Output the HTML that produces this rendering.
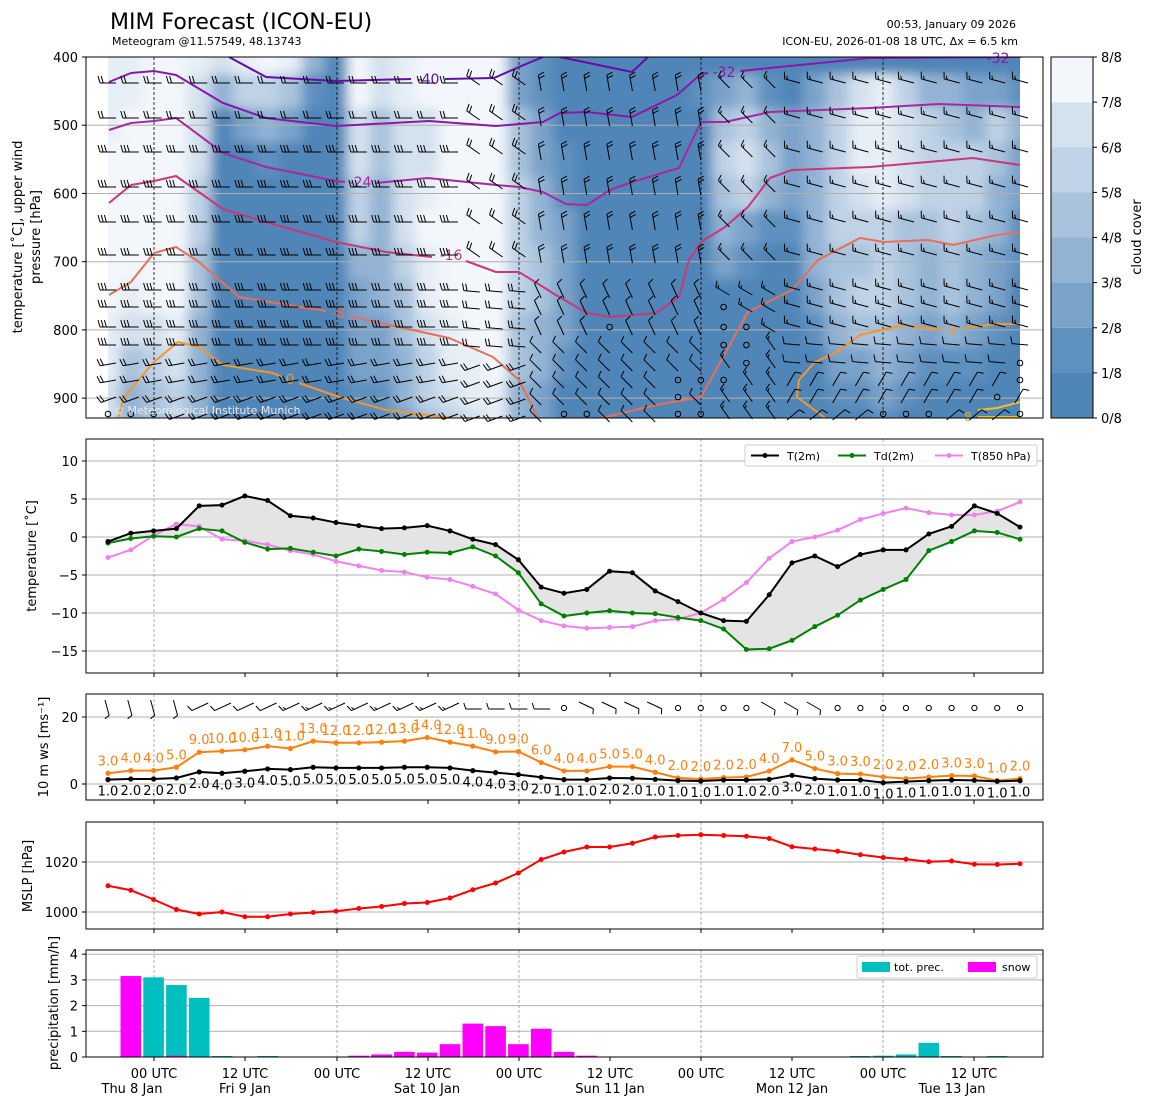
<!DOCTYPE html>
<html><head><meta charset="utf-8">
<style>
html,body{margin:0;padding:0;background:#fff;}
svg text{font-family:"DejaVu Sans","Liberation Sans",sans-serif;}
</style></head>
<body>
<svg id="s" xmlns="http://www.w3.org/2000/svg" width="1155" height="1105" viewBox="0 0 1155 1105">
<defs>
<clipPath id="cTop"><rect x="108" y="57" width="912" height="361"/></clipPath>
<clipPath id="cTopAx"><rect x="86" y="57" width="957" height="361"/></clipPath>
<filter id="bl" x="-5%" y="-5%" width="110%" height="110%"><feGaussianBlur stdDeviation="6 5"/></filter>
</defs>
</svg>
<script>
const S=document.getElementById('s');
const NS='http://www.w3.org/2000/svg';
function el(t,a,p){const e=document.createElementNS(NS,t);for(const k in a)e.setAttribute(k,a[k]);(p||S).appendChild(e);return e;}
function tx(x,y,s,o){o=o||{};const e=el('text',Object.assign({x:x,y:y,'font-size':o.fs||13,fill:o.fill||'#000','text-anchor':o.a||'middle'},o.attr||{}),o.p);e.textContent=s;return e;}
const X=i=>108+i*22.8;
const XL=86,XR=1043;
const dashX=[154,337,519,701,883];
const tickX=[154,245,337,428,519,610,701,792,883,974];

// ---------- TOP PANEL ----------
const yp=p=>57+(p-400)*0.6823;
const cl=["777888887766","778888876433","888888886544","888888887655","766655443333","630000000000","752000000000","853100000000","742000000000","310000000000","000000000000","886655322210","664433332211","776666544332","886678776554","888888887765","888888888776","888888888877","224455554433","112233443322","000112222100","000000000000","000000000000","000000000000","000000000000","000000000000","010000000000",
"024543200000","035652100000","013431000000","002221000000","023333321000","045555443210","067765454210","077775554321","056664443210","035554332100","034555443100","023554332100","025433221000","013221100000"];
const cols=["#4f85b7","#5f91bf","#7aa3ca","#92b3d4","#a9c3dd","#bfd2e6","#d4e1ee","#e6eef6","#f3f7fb"];
const gTop=el('g',{'clip-path':'url(#cTop)'});
const gB=el('g',{filter:'url(#bl)'},gTop);
const plev=[400,450,500,550,600,650,700,750,800,850,900,930];
for(let i=0;i<41;i++){
  for(let k=0;k<12;k++){
    const v=+cl[i][k];
    const y0=k==0?30:yp((plev[k-1]+plev[k])/2);
    const y1=k==11?440:yp((plev[k]+plev[k+1])/2);
    let x0=X(i)-11.4,x1=X(i)+11.4;
    if(i==0)x0=80; if(i==40)x1=1050;
    el('rect',{x:x0,y:y0,width:x1-x0+0.5,height:y1-y0+0.5,fill:cols[v]},gB);
  }
}
[500,600,700,800,900].forEach(p=>el('line',{x1:XL,x2:XR,y1:yp(p),y2:yp(p),stroke:'#b0b0b0','stroke-width':1}));
dashX.forEach(x=>el('line',{x1:x,x2:x,y1:57,y2:418,stroke:'#000','stroke-width':0.8,'stroke-dasharray':'3,2'}));
const gC=el('g',{'clip-path':'url(#cTopAx)',fill:'none','stroke-width':2,'stroke-linejoin':'round'});
function pl(pts,c,w){el('polyline',{points:pts.map(p=>p.join(',')).join(' '),stroke:c,'stroke-width':w||2,fill:'none'},gC);}
pl([[229,57],[266,77],[336,81],[411,79]],'#6a0aa8');pl([[445,79],[494,78],[519,67],[543,57]],'#6a0aa8');
pl([[560,57],[632,72],[648,57]],'#6a0aa8');
pl([[109,82],[131,73],[154,71],[176,75],[223,103],[266,118],[336,126],[429,121],[496,126],[543,122],[560,113],[587,112],[632,117],[677,95],[701,74],[708,73]],'#8a18a8');
pl([[740,71],[870,58],[1021,57]],'#8a18a8');
pl([[109,130],[131,123],[154,121],[176,118],[223,153],[266,167],[336,181],[345,182]],'#a8289e');
pl([[376,183],[428,178],[496,185],[519,187],[543,192],[566,204],[587,205],[610,190],[632,182],[679,168],[701,122],[725,122],[770,112],[870,108],[939,104],[1020,107]],'#a8289e');
pl([[109,203],[131,185],[154,181],[176,176],[223,209],[266,222],[336,242],[386,252],[432,257]],'#c8387a');
pl([[466,261],[496,272],[519,272],[556,295],[587,313],[610,317],[656,313],[679,297],[689,260],[701,242],[725,227],[748,207],[770,178],[792,170],[870,167],[928,162],[973,158],[1020,165]],'#c8387a');
pl([[109,295],[131,282],[154,253],[176,247],[199,262],[239,297],[326,311]],'#e8705a');
pl([[349,316],[449,338],[493,357],[519,380],[538,418]],'#e8705a');
pl([[601,418],[656,405],[701,397],[748,312],[792,290],[818,260],[860,238],[884,242],[928,240],[953,245],[997,235],[1020,232]],'#e8705a');
pl([[118,418],[124,397],[154,362],[178,342],[199,347],[223,365],[273,373],[282,377]],'#f5962a');
pl([[299,383],[339,397],[386,410],[453,418]],'#f5962a');
pl([[825,418],[797,397],[799,380],[815,362],[835,353],[860,335],[904,325],[942,330]],'#f5962a');
pl([[963,328],[997,324],[1020,324]],'#f5962a');
pl([[978,410],[997,408],[1020,402]],'#f0c020');pl([[978,417],[1020,417]],'#f0c020');
tx(428,84,'-40',{fs:14,fill:'#6a0aa8'});tx(724,77,'-32',{fs:14,fill:'#8a18a8'});tx(998,63,'-32',{fs:14,fill:'#8a18a8'});
tx(360,187,'-24',{fs:14,fill:'#a8289e'});tx(451,260,'-16',{fs:14,fill:'#c8387a'});
tx(338,318,'-8',{fs:14,fill:'#e8705a'});tx(290,384,'0',{fs:14,fill:'#f5962a'});tx(952,335,'0',{fs:14,fill:'#f5962a'});
tx(968,421,'8',{fs:12,fill:'#e0b020'});
function barb(sx,sy,th,L,n,fl,sw){
  const r=th*Math.PI/180,ux=Math.cos(r),uy=-Math.sin(r),fx=-uy,fy=ux;
  const ex=sx+ux*L,ey=sy+uy*L;
  let d=`M${sx},${sy}L${ex},${ey}`;
  for(let j=0;j<n;j++){
    const len=(n-j<1)?fl*0.5:fl;
    const bx=ex-ux*j*3.2,by=ey-uy*j*3.2;
    d+=`M${bx},${by}L${bx+fx*len+ux*2},${by+fy*len+uy*2}`;
  }
  el('path',{d:d,stroke:'#000','stroke-width':sw||1,fill:'none'});
}
function calm(x,y,r){el('circle',{cx:x,cy:y,r:r||2.8,fill:'none',stroke:'#000','stroke-width':1});}
const rows=[83,118,152,187,222,255,290,307,327,345,363,380,397,414];
const circ=new Set(['0,13','1,13','2,13','22,8','27,7','27,8','28,8','27,9','28,9','28,10','25,11','26,11','27,11','25,12','20,13','21,13','25,13','26,13','34,13','35,13','36,13','39,12','40,10','40,11','40,13']);
for(let i=0;i<41;i++){for(let r=0;r<14;r++){
  const x=X(i),y=rows[r];
  if(circ.has(i+','+r)){calm(x,y);continue;}
  let th,n;
  if(i<=15){th=r<=9?180:(r<=11?190:200);n=r<=1?2:(r<=9?3:2);
    barb(x+8,y,th,16,n,7);}
  else if(i<=18){th=r<=5?145:(r<=9?175:200);n=2;barb(x+7,y+2,th,16,n,7);}
  else if(i<=26){th=r<=5?100:(r<=8?115:135);n=r<=5?2:1;barb(x,y+8,th,16,n,6);}
  else if(i<=29){th=r<=5?135:(r<=8?150:125);n=1.5;barb(x+6,y+5,th,16,n,6);}
  else {th=r<=8?165:(r<=10?175:(r<=12?60:40));n=r<=8?1.5:1;
    if(th<90)barb(x-5,y+6,th,16,n,6);else barb(x+8,y,th,16,n,7);}
}}
tx(113,414,'© Meteorological Institute Munich',{fs:11,fill:'#e8e8e8',a:'start'});
el('rect',{x:86,y:57,width:957,height:361,fill:'none',stroke:'#000','stroke-width':1});
const cbc=["#4f85b7","#5f91bf","#7aa3ca","#92b3d4","#a9c3dd","#bfd2e6","#d4e1ee","#f3f7fb"];
for(let k=0;k<8;k++){el('rect',{x:1051,y:418-(k+1)*45.125,width:42,height:45.2,fill:cbc[k]});}
el('rect',{x:1051,y:57,width:42,height:361,fill:'none',stroke:'#000','stroke-width':1});
for(let k=0;k<=8;k++){const y=418-k*45.125;el('line',{x1:1093,x2:1097,y1:y,y2:y,stroke:'#000'});tx(1101,y+5,k+'/8',{a:'start'});}
tx(1141,237,'cloud cover',{attr:{transform:'rotate(-90 1141 237)'}});
[400,500,600,700,800,900].forEach(p=>{const y=yp(p);el('line',{x1:82,x2:86,y1:y,y2:y,stroke:'#000'});tx(78,y+5,p,{a:'end'});});
tx(22,237,'temperature [˚C], upper wind',{attr:{transform:'rotate(-90 22 237)'}});
tx(40,237,'pressure [hPa]',{attr:{transform:'rotate(-90 40 237)'}});

function frame(y0,y1){el('rect',{x:XL,y:y0,width:XR-XL,height:y1-y0,fill:'none',stroke:'#000','stroke-width':1});
  tickX.forEach(x=>el('line',{x1:x,x2:x,y1:y1,y2:y1+4,stroke:'#000'}));}
function vdash(y0,y1){dashX.forEach(x=>el('line',{x1:x,x2:x,y1:y0,y2:y1,stroke:'#999','stroke-width':0.8,'stroke-dasharray':'3,2'}));}
function hgrid(ys){ys.forEach(y=>el('line',{x1:XL,x2:XR,y1:y,y2:y,stroke:'#b0b0b0','stroke-width':1}));}
function ytick(y,s){el('line',{x1:82,x2:86,y1:y,y2:y,stroke:'#000'});tx(78,y+5,s,{a:'end'});}
function series(vals,fy,c,w,r){const pts=vals.map((v,i)=>X(i)+','+fy(v)).join(' ');
  el('polyline',{points:pts,fill:'none',stroke:c,'stroke-width':w||2});
  vals.forEach((v,i)=>el('circle',{cx:X(i),cy:fy(v),r:r||2.5,fill:c}));}

const ty=v=>537-7.6*v;
const T=[-0.6,0.5,0.8,1.1,4.1,4.2,5.4,4.8,2.8,2.5,1.9,1.5,1.1,1.2,1.5,0.8,-0.3,-1.0,-3.0,-6.6,-7.4,-6.9,-4.5,-4.7,-7.1,-8.5,-10.0,-11.0,-11.1,-7.6,-3.4,-2.5,-3.9,-2.3,-1.7,-1.7,0.4,1.4,4.1,3.1,1.3];
const Td=[-0.8,-0.2,0.1,0.0,1.1,0.8,-0.7,-1.6,-1.5,-2.0,-2.5,-1.6,-1.9,-2.3,-2.0,-2.1,-1.3,-2.5,-4.7,-8.8,-10.4,-10.0,-9.7,-10.0,-10.1,-10.6,-11.0,-12.1,-14.8,-14.7,-13.6,-11.8,-10.3,-8.3,-6.9,-5.6,-1.8,-0.6,0.8,0.6,-0.3];
const T8=[-2.7,-1.7,0.2,1.7,1.4,-0.3,-0.5,-1.0,-1.8,-2.3,-3.2,-3.8,-4.4,-4.6,-5.3,-5.6,-6.5,-7.5,-9.6,-11.0,-11.7,-12.0,-11.9,-11.8,-11.0,-10.8,-10.0,-8.2,-6.0,-2.8,-0.6,0.0,0.9,2.3,3.1,3.8,3.2,2.9,2.9,3.4,4.6];
hgrid([10,5,0,-5,-10,-15].map(ty));vdash(439,673);
{let d='M'+T.map((v,i)=>X(i)+','+ty(v)).join('L')+'L'+Td.map((v,i)=>X(i)+','+ty(v)).reverse().join('L')+'Z';
el('path',{d:d,fill:'#e4e4e4',stroke:'none'});}
series(T8,ty,'#ee82ee',2);series(Td,ty,'#008000',2);series(T,ty,'#000',2);
frame(439,673);
[10,5,0,-5,-10,-15].forEach(v=>ytick(ty(v),v<0?'−'+(-v):v));
tx(36,556,'temperature [˚C]',{attr:{transform:'rotate(-90 36 556)'}});
el('rect',{x:745,y:445,width:292,height:21,rx:2,fill:'#fff','fill-opacity':0.85,stroke:'#ccc'});
[[751,'#000','T(2m)'],[838,'#008000','Td(2m)'],[935,'#ee82ee','T(850 hPa)']].forEach(a=>{
 el('line',{x1:a[0],x2:a[0]+28,y1:455.5,y2:455.5,stroke:a[1],'stroke-width':2});el('circle',{cx:a[0]+14,cy:455.5,r:2.5,fill:a[1]});
 tx(a[0]+36,460,a[2],{fs:11,a:'start'});});

const wy=v=>784-3.35*v;
hgrid([wy(0),wy(20)]);vdash(694,800);
const G=[3.2,4,4,5,9.5,9.8,10.2,11.3,10.6,12.8,12.3,12.3,12.5,12.8,13.9,12.5,11.3,9.6,9.7,6.4,3.9,3.9,5.2,5.2,3.5,1.8,1.5,1.9,2.1,3.9,7.2,4.6,3.1,3.0,2.1,1.6,2.1,2.5,2.4,1.0,1.6];
const GL=[3,4,4,5,9,10,10,11,11,13,12,12,12,13,14,12,11,9,9,6,4,4,5,5,4,2,2,2,2,4,7,5,3,3,2,2,2,3,3,1,2];
const M=[1.3,1.5,1.5,1.8,3.6,3.2,3.8,4.5,4.3,5.0,4.8,4.8,4.8,5.0,5.0,4.8,4.0,3.4,2.8,2.0,1.3,1.3,1.8,1.7,1.4,1.0,0.9,1.2,1.2,1.4,2.6,1.6,1.2,1.2,0.4,0.7,1.0,1.2,1.1,0.8,1.0];
const ML=[1,2,2,2,2,4,3,4,5,5,5,5,5,5,5,5,4,4,3,2,1,1,2,2,1,1,1,1,1,2,3,2,1,1,1,1,1,1,1,1,1];
series(G,wy,'#ff7f0e',2,2.6);series(M,wy,'#000',2,2.6);
GL.forEach((v,i)=>tx(X(i),wy(G[i])-8,v.toFixed(1),{fs:13,fill:'#ff7f0e'}));
ML.forEach((v,i)=>tx(X(i),wy(M[i])+16,v.toFixed(1),{fs:13}));
for(let i=0;i<41;i++){const x=X(i);
  if([20,25,26,27,28].includes(i)||i>=32){calm(x,708,2.6);continue;}
  if(i<=3)barb(x-3,700,-75,16,1,5);
  else if(i<=15)barb(x+9,703,205,18,i<8?1:1.5,6);
  else if(i<=19)barb(x+9,709,180,16,1,6);
  else if(i<=24)barb(x-8,702,-25,16,1,5);
  else barb(x-8,702,-30,16,1,5);
}
frame(694,800);
ytick(wy(0),'0');ytick(wy(20),'20');
tx(48,747,'10 m ws [ms⁻¹]',{attr:{transform:'rotate(-90 48 747)'}});

const my=v=>862-2.5*(v-1020);
const P=[1010.5,1008.7,1005,1001,999.2,1000,998.1,998.1,999.2,999.8,1000.3,1001.4,1002.2,1003.4,1003.8,1005.6,1008.9,1011.6,1015.6,1021,1024,1026,1026,1027.5,1030,1030.6,1030.9,1030.6,1030.3,1029.4,1026.1,1025.2,1024.3,1022.9,1021.8,1021.1,1020.1,1020.4,1019.1,1019,1019.3];
hgrid([my(1000),my(1020)]);vdash(822,929);
series(P,my,'#ff0000',2,2.5);
frame(822,929);
ytick(my(1000),'1000');ytick(my(1020),'1020');
tx(32,876,'MSLP [hPa]',{attr:{transform:'rotate(-90 32 876)'}});

const py=v=>1057-25.7*v;
hgrid([1,2,3,4].map(py));vdash(950,1057);
function bar(x,v,c){el('rect',{x:x-10.3,y:py(v),width:20.6,height:1057-py(v),fill:c});}
const cy='#00bfbf',mg='#ff00ff';
bar(X(1),3.15,mg);bar(X(2),3.1,cy);bar(X(3),2.8,cy);bar(X(3),0.05,mg);bar(X(4),2.3,cy);bar(X(5),0.04,cy);bar(X(7),0.04,cy);
[[11,0.05],[12,0.1],[13,0.2],[14,0.17],[15,0.5],[16,1.3],[17,1.2],[18,0.5],[19,1.1],[20,0.2],[21,0.05]].forEach(a=>bar(X(a[0]),a[1],mg));
[[33,0.04],[34,0.05],[35,0.1],[36,0.55],[37,0.04],[39,0.04]].forEach(a=>bar(X(a[0]),a[1],cy));
frame(950,1057);
[0,1,2,3,4].forEach(v=>ytick(py(v),v));
tx(58,1003,'precipitation [mm/h]',{attr:{transform:'rotate(-90 58 1003)'}});
el('rect',{x:857,y:956,width:180,height:22,rx:2,fill:'#fff','fill-opacity':0.85,stroke:'#ccc'});
el('rect',{x:862,y:962,width:28,height:10,fill:cy});tx(894,971,'tot. prec.',{fs:11,a:'start'});
el('rect',{x:968,y:962,width:28,height:10,fill:mg});tx(1002,971,'snow',{fs:11,a:'start'});
tickX.forEach((x,k)=>tx(x,1078,k%2==0?'00 UTC':'12 UTC',{fs:13}));
[[132,'Thu 8 Jan'],[245,'Fri 9 Jan'],[427,'Sat 10 Jan'],[610,'Sun 11 Jan'],[792,'Mon 12 Jan'],[952,'Tue 13 Jan']].forEach(a=>tx(a[0],1093,a[1],{fs:13}));

tx(110,29,'MIM Forecast (ICON-EU)',{fs:22,a:'start'});
tx(112,45,'Meteogram @11.57549, 48.13743',{fs:11,a:'start'});
tx(1016,28,'00:53, January 09 2026',{fs:11,a:'end'});
tx(1018,45,'ICON-EU, 2026-01-08 18 UTC, Δx = 6.5 km',{fs:11,a:'end'});
</script>
</body></html>
